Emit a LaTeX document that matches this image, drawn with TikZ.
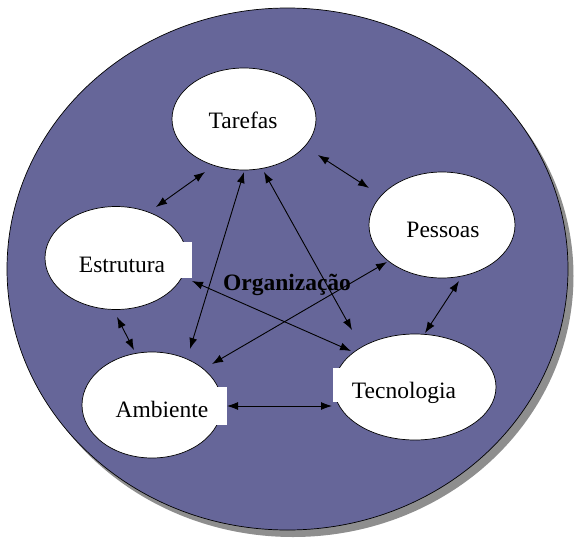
\documentclass[tikz,border=0pt]{standalone}
\usepackage{fontspec}
\setmainfont{Liberation Serif}
\usetikzlibrary{shapes.geometric,arrows.meta}
\definecolor{orgfill}{HTML}{666699}
\definecolor{shadowgray}{HTML}{8E8E8E}
\tikzset{
  ell/.style={ellipse, draw=black, line width=0.7pt, fill=white, inner sep=0pt},
  lbl/.style={anchor=base, inner sep=0pt, font=\fontsize{23.5}{27}\selectfont},
  orglbl/.style={anchor=base, inner sep=0pt, font=\fontsize{23.5}{27}\selectfont\bfseries},
  biarrow/.style={line width=0.9pt, {Latex[length=11pt,width=8pt]}-{Latex[length=11pt,width=8pt]}}
}
\begin{document}
\begin{tikzpicture}[x=1pt,y=-1pt]
\useasboundingbox (0,0) rectangle (574,539);
% shadow and organisation circle
\fill[shadowgray] (293,276) ellipse [x radius=280.5pt, y radius=261pt];
\filldraw[fill=orgfill, draw=black, line width=0.7pt] (287.5,269) ellipse [x radius=280.5pt, y radius=261pt];
% ellipses
\node[ell, minimum width=144pt, minimum height=102pt] (tar) at (244,119) {};
\node[ell, minimum width=146pt, minimum height=106pt] (pes) at (442,225) {};
\node[ell, minimum width=142pt, minimum height=103pt] (est) at (116,258) {};
\node[ell, minimum width=140pt, minimum height=106pt] (amb) at (152,405) {};
\node[ell, minimum width=162pt, minimum height=106pt] (tec) at (415,387) {};
% white text boxes
\fill[white] (60,242) rectangle (192,278);
\fill[white] (100,387) rectangle (227,425);
\fill[white] (333,368) rectangle (470,402);
% labels
\node[lbl] (ttar) at (243,128) {Tarefas};
\node[lbl] (tpes) at (443,237) {Pessoas};
\node[lbl] (test) at (122,272) {Estrutura};
\node[lbl] (tamb) at (162,417) {Ambiente};
\node[lbl] (ttec) at (404,398) {Tecnologia};
\node[orglbl] (torg) at (287,290) {Organização};
% arrow end points
\coordinate (te1) at (156,207); \coordinate (te2) at (205,172);
\coordinate (ta1) at (190,349); \coordinate (ta2) at (244,172);
\coordinate (tt1) at (264,172); \coordinate (tt2) at (352,330);
\coordinate (tp1) at (318,155); \coordinate (tp2) at (369,188);
\coordinate (pt1) at (459,281); \coordinate (pt2) at (425,333);
\coordinate (pa1) at (387,262); \coordinate (pa2) at (212,364);
\coordinate (et1) at (192,281); \coordinate (et2) at (351,351);
\coordinate (ea1) at (117,317); \coordinate (ea2) at (134,350);
\coordinate (at1) at (227,406); \coordinate (at2) at (332,406);
% connectors
\draw[biarrow] (te1) -- (te2);
\draw[biarrow] (ta1) -- (ta2);
\draw[biarrow] (tt1) -- (tt2);
\draw[biarrow] (tp1) -- (tp2);
\draw[biarrow] (pt1) -- (pt2);
\draw[biarrow] (pa1) -- (pa2);
\draw[biarrow] (et1) -- (et2);
\draw[biarrow] (ea1) -- (ea2);
\draw[biarrow] (at1) -- (at2);
\end{tikzpicture}
\end{document}
